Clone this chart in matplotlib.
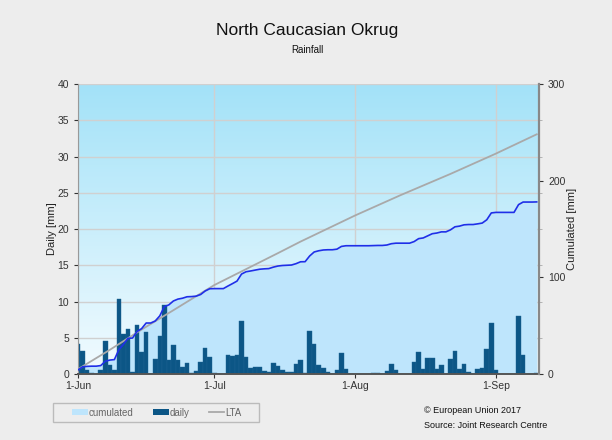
import numpy as np
import matplotlib
matplotlib.use("Agg")
import matplotlib.pyplot as plt
from matplotlib.patches import Patch, Rectangle
from matplotlib.lines import Line2D
from matplotlib.colors import LinearSegmentedColormap

plt.rcParams['font.family'] = ['Liberation Sans', 'DejaVu Sans']

# ---- data (mm) ----
daily_jun = [4.2, 3.2, 0.5, 0.2, 0.0, 0.6, 4.5, 1.2, 0.5, 10.3, 5.5, 6.2, 0.3, 6.75, 3.0,
             5.8, 0.0, 2.1, 5.3, 9.5, 1.9, 4.0, 1.95, 0.9, 1.5, 0.2, 0.45, 1.7, 3.65, 2.3]
daily_jul = [0.15, 0.0, 0.0, 2.65, 2.5, 2.6, 7.3, 2.4, 0.8, 0.9, 0.9, 0.4, 0.25, 1.5, 1.15,
             0.55, 0.25, 0.25, 1.4, 1.95, 0.1, 5.9, 4.15, 1.25, 0.8, 0.25, 0.0, 0.6, 2.85, 0.7, 0.0]
daily_aug = [0.0, 0.0, 0.0, 0.0, 0.15, 0.15, 0.0, 0.45, 1.35, 0.55, 0.0, 0.0, 0.0, 1.65, 3.05,
             0.7, 2.2, 2.2, 0.7, 1.2, 0.0, 2.05, 3.2, 0.7, 1.35, 0.3, 0.0, 0.7, 0.8, 3.4, 7.1]
daily_sep = [0.55, 0.0, 0.0, 0.0, 0.0, 8.05, 2.65, 0.0, 0.0, 0.15]

lta_days = [0, 7, 14, 21, 30, 44, 49, 61, 71, 82, 92, 101]
lta_vals = [5, 25, 46, 66, 92, 125, 137, 164, 185, 207, 228, 248]

month_tick_days = [0, 30, 61, 92]
month_tick_labels = ["1-Jun", "1-Jul", "1-Aug", "1-Sep"]

daily = np.array(daily_jun + daily_jul + daily_aug + daily_sep)
days = np.arange(len(daily))
cumulated = np.cumsum(daily)

# ---- figure ----
fig = plt.figure(figsize=(6.12, 4.40), dpi=100, facecolor="#EDEDED")
ax = fig.add_axes([0.1275, 0.15, 0.7532, 0.659])
ax2 = ax.twinx()

# gradient background
cmap = LinearSegmentedColormap.from_list("bg", ["#F2FBFF", "#A3E2F8"])
grad = np.linspace(0, 1, 256).reshape(-1, 1)
ax.imshow(grad, extent=[0, 1, 0, 1], transform=ax.transAxes, aspect="auto",
          cmap=cmap, origin="lower", zorder=0)
ax.set_xlim(0, 101.5)
ax.set_ylim(0, 40)
ax2.set_xlim(0, 101.5)
ax2.set_ylim(0, 300)

ax.set_axisbelow(True)
ax.grid(True, color="#D0D0D0", lw=1.0)

# cumulated fill + lines drawn in right-axis units
ax.fill_between(days, 0, cumulated, color="#BEE5FC", lw=0, zorder=1,
                transform=ax2.transData)
ax.bar(days, daily, width=1.0, color="#0C5686", edgecolor="#1E6494", lw=0.3, zorder=2)
ax.plot(lta_days, lta_vals, color="#A9A9A9", lw=1.3, zorder=3, transform=ax2.transData)
ax.plot(days, cumulated, color="#1F2FE8", lw=1.2, zorder=4, transform=ax2.transData)

# axes styling
ax.set_xticks(month_tick_days)
ax.set_xticklabels(month_tick_labels)
ax.set_yticks(np.arange(0, 41, 5))
ax.tick_params(axis="both", labelsize=7.5, colors="#333333", length=3, width=0.8)
ax.tick_params(axis="x", pad=2)
ax2.set_yticks([0, 100, 200, 300])
ax2.set_yticks(np.arange(0, 301, 37.5), minor=True)
ax2.tick_params(axis="y", which="major", labelsize=7.5, colors="#333333", length=3, width=0.8)
ax2.tick_params(axis="y", which="minor", length=2, width=0.6, colors="#AAAAAA")

for a in (ax, ax2):
    for s in a.spines.values():
        s.set_visible(False)
ax.spines["left"].set_visible(True)
ax.spines["left"].set_color("#999999")
ax.spines["left"].set_linewidth(0.8)
ax.spines["bottom"].set_visible(True)
ax.spines["bottom"].set_color("#555555")
ax.spines["bottom"].set_linewidth(1.4)
ax2.spines["right"].set_visible(True)
ax2.spines["right"].set_color("#888888")
ax2.spines["right"].set_linewidth(1.6)

ax.set_ylabel("Daily [mm]", fontsize=8, color="#222222", labelpad=0)
ax2.set_ylabel("Cumulated [mm]", fontsize=8, color="#222222", labelpad=1)

# titles
fig.text(0.502, 0.93, "North Caucasian Okrug", ha="center", va="center",
         fontsize=12.5, color="#111111")
fig.text(0.502, 0.886, "Rainfall", ha="center", va="center", fontsize=7, color="#111111")

# legend
fig.patches.append(Rectangle((53 / 612, 1 - 422 / 440), 206 / 612, 19 / 440,
                             transform=fig.transFigure, facecolor="#EDEDED",
                             edgecolor="#BBBBBB", lw=1.0, zorder=0))
handles = [Patch(facecolor="#BEE5FC", edgecolor="none"),
           Patch(facecolor="#0C5686", edgecolor="none"),
           Line2D([0], [0], color="#A9A9A9", lw=1.3)]
fig.legend(handles, ["cumulated", "daily", "LTA"], ncol=3, loc="center",
           bbox_to_anchor=(157 / 612, 1 - 412.5 / 440), fontsize=7, frameon=False,
           handlelength=1.6, handleheight=0.5, handletextpad=0.1,
           columnspacing=2.0, borderpad=0.2, labelcolor="#666666")

fig.text(0.692, 0.066, "\u00a9 European Union 2017", fontsize=6.5, color="#111111",
         ha="left", va="center")
fig.text(0.692, 0.034, "Source: Joint Research Centre", fontsize=6.5, color="#111111",
         ha="left", va="center")

fig.savefig("out.png", dpi=100, facecolor=fig.get_facecolor())
